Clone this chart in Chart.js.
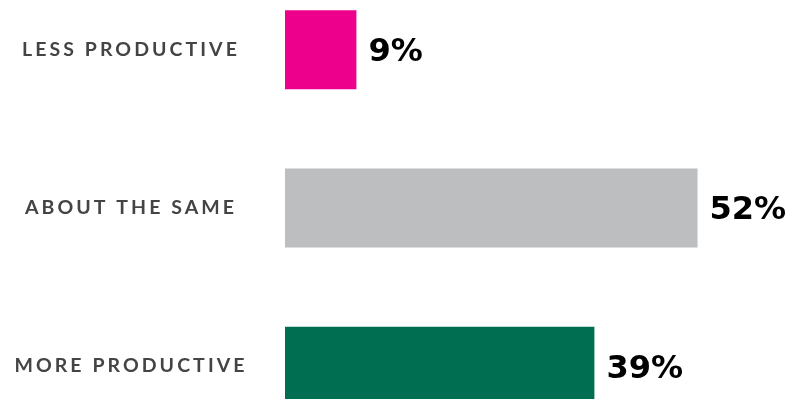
<!DOCTYPE html>
<html>
<head>
<meta charset="utf-8">
<script src="https://cdn.jsdelivr.net/npm/chart.js@4.4.1/dist/chart.umd.min.js"></script>
<style>
  html, body { margin: 0; padding: 0; background: #fff; overflow: hidden; }
  #wrap { position: relative; width: 804px; height: 399px; overflow: hidden; }
  #chart { position: absolute; left: 0; top: -41px; }
</style>
</head>
<body>
<div id="wrap"><canvas id="chart" width="804" height="498"></canvas></div>
<script>
  // Chart data
  const categories = ["LESS PRODUCTIVE", "ABOUT THE SAME", "MORE PRODUCTIVE"];
  const values = [9, 52, 39];
  const barColors = ["#ec008c", "#bdbec0", "#006f51"];

  const labelFont = "bold 19.5px Lato";
  const valueFont = "bold 32px 'DejaVu Sans'";

  const canvas = document.getElementById("chart");
  const ctx = canvas.getContext("2d");

  // letter spacing so "LESS PRODUCTIVE" comes out about 218px wide
  ctx.font = labelFont;
  const plainW = ctx.measureText(categories[0]).width;
  const labelSpacing = ((218 - plainW) / categories[0].length).toFixed(2) + "px";
  ctx.letterSpacing = labelSpacing;
  let widest = 0;
  categories.forEach(function (c) {
    widest = Math.max(widest, ctx.measureText(c).width);
  });
  // gap between labels and bars, so the labels are centred around x=131
  const tickGap = 285 - 131 - widest / 2;

  // chart.js resets the canvas, so put the spacing back before layout
  const spacing = {
    id: "spacing",
    beforeUpdate(chart) { chart.ctx.letterSpacing = labelSpacing; },
    beforeDraw(chart) { chart.ctx.letterSpacing = labelSpacing; }
  };

  // Value labels at the end of each bar
  const valueLabels = {
    id: "valueLabels",
    afterDatasetsDraw(chart) {
      const c = chart.ctx;
      const meta = chart.getDatasetMeta(0);
      c.save();
      c.letterSpacing = "0px";
      c.font = valueFont;
      c.fillStyle = "#000";
      c.textAlign = "left";
      c.textBaseline = "middle";
      meta.data.forEach(function (bar, i) {
        c.fillText(values[i] + "%", bar.x + 12, bar.y + 3);
      });
      c.restore();
    }
  };

  const chart = new Chart(ctx, {
    type: "bar",
    data: {
      labels: categories,
      datasets: [{
        data: values,
        backgroundColor: barColors,
        borderWidth: 0,
        barPercentage: 0.5,
        categoryPercentage: 1.0
      }]
    },
    options: {
      indexAxis: "y",
      responsive: false,
      animation: false,
      devicePixelRatio: 1,
      layout: { padding: { left: 0, right: 43, top: 0, bottom: 0 } },
      plugins: {
        legend: { display: false },
        tooltip: { enabled: false }
      },
      scales: {
        x: {
          display: false,
          min: 0,
          max: 60
        },
        y: {
          afterFit: function (scale) { scale.width = 285; },
          grid: { display: false, drawTicks: true, tickLength: tickGap },
          border: { display: false },
          ticks: {
            crossAlign: "center",
            padding: 0,
            color: "#444446",
            font: { family: "Lato", size: 19.5, weight: "bold" }
          }
        }
      }
    },
    plugins: [spacing, valueLabels]
  });
</script>
</body>
</html>
